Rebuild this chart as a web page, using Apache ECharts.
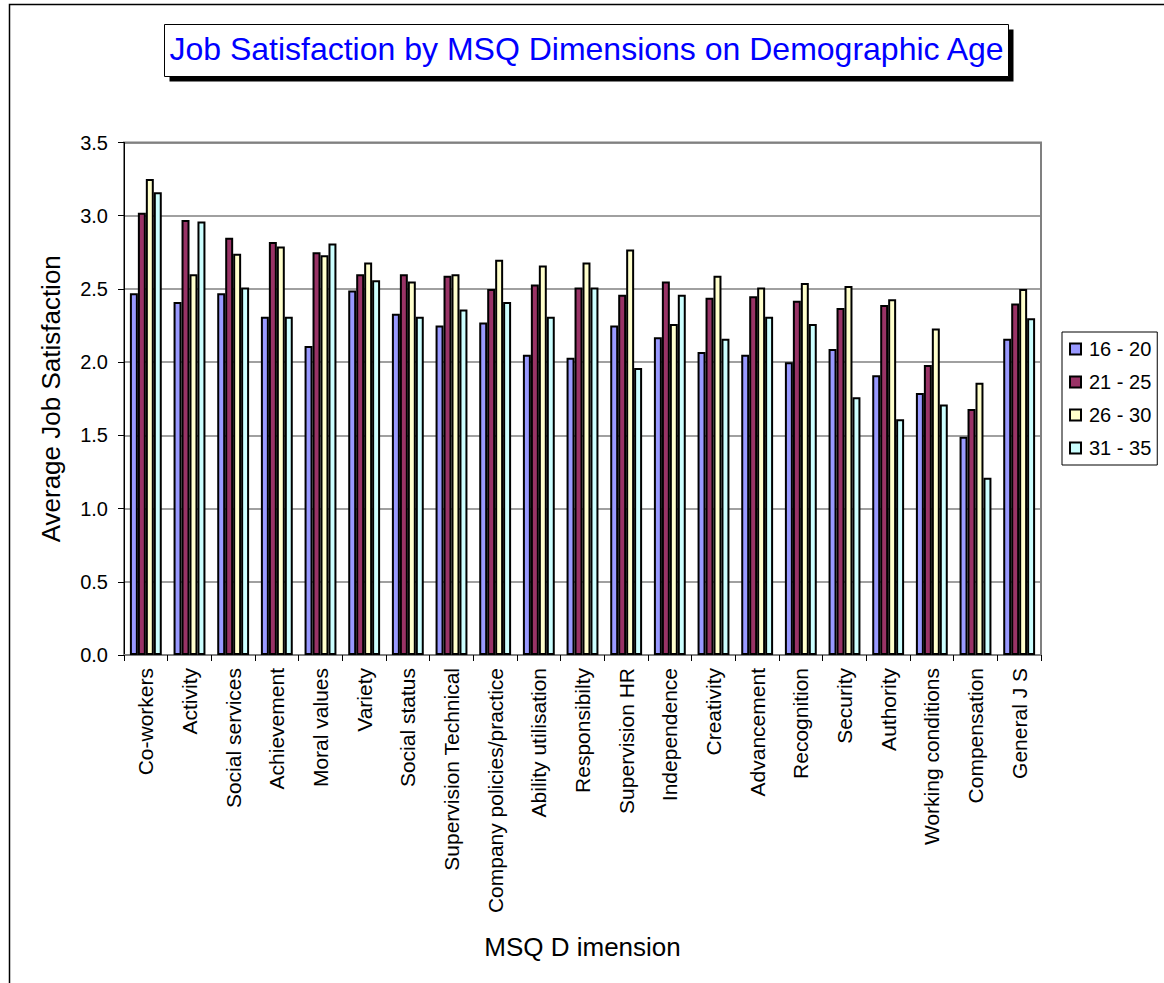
<!DOCTYPE html>
<html>
<head>
<meta charset="utf-8">
<script src="https://cdn.jsdelivr.net/npm/echarts@6/dist/echarts.min.js"></script>
<style>
html,body{margin:0;padding:0;background:#fff;}
#chart{width:1164px;height:983px;}
</style>
</head>
<body>
<div id="chart"></div>
<script>
var categories = ['Co-workers','Activity','Social services','Achievement','Moral values','Variety','Social status','Supervision Technical','Company policies/practice','Ability utilisation','Responsibilty','Supervision HR','Independence','Creativity','Advancement','Recognition','Security','Authority','Working conditions','Compensation','General J S'];
var seriesNames = ['16 - 20','21 - 25','26 - 30','31 - 35'];
var age16_20 = [2.47, 2.41, 2.47, 2.31, 2.11, 2.49, 2.33, 2.25, 2.27, 2.05, 2.03, 2.25, 2.17, 2.07, 2.05, 2.00, 2.09, 1.91, 1.79, 1.49, 2.16];
var age21_25 = [3.02, 2.97, 2.85, 2.82, 2.75, 2.60, 2.60, 2.59, 2.50, 2.53, 2.51, 2.46, 2.55, 2.44, 2.45, 2.42, 2.37, 2.39, 1.98, 1.68, 2.40];
var age26_30 = [3.25, 2.60, 2.74, 2.79, 2.73, 2.68, 2.55, 2.60, 2.70, 2.66, 2.68, 2.77, 2.26, 2.59, 2.51, 2.54, 2.52, 2.43, 2.23, 1.86, 2.50];
var age31_35 = [3.16, 2.96, 2.51, 2.31, 2.81, 2.56, 2.31, 2.36, 2.41, 2.31, 2.51, 1.96, 2.46, 2.16, 2.31, 2.26, 1.76, 1.61, 1.71, 1.21, 2.30];
var colors = ['#9999FF','#993366','#FFFFCC','#CCFFFF'];

var FONT = "'Liberation Sans', Arial, sans-serif";
var allData = [age16_20, age21_25, age26_30, age31_35];

var chart = echarts.init(document.getElementById('chart'), null, {renderer: 'svg'});
var series = allData.map(function (d, i) {
  return {
    name: seriesNames[i],
    type: 'bar',
    data: d,
    barGap: '0%',
    barCategoryGap: '27%',
    itemStyle: {color: colors[i], borderColor: '#000', borderWidth: 2},
    emphasis: {disabled: true}
  };
});

chart.setOption({
  backgroundColor: '#fff',
  animation: false,
  textStyle: {fontFamily: FONT},
  graphic: [
    {type: 'rect', shape: {x: 9.5, y: 4.5, width: 1400, height: 1200}, style: {fill: 'none', stroke: '#000', lineWidth: 1.5}, z: -10, silent: true},
    {type: 'rect', shape: {x: 169.5, y: 29.5, width: 844, height: 52}, style: {fill: '#000'}, z: -5, silent: true},
    {type: 'rect', shape: {x: 164.5, y: 24.5, width: 844, height: 52}, style: {fill: '#fff', stroke: '#000', lineWidth: 1}, z: -4, silent: true}
  ],
  title: {
    text: 'Job Satisfaction by MSQ Dimensions on Demographic Age',
    left: 586.5,
    textAlign: 'center',
    top: 33,
    padding: 0,
    textStyle: {color: '#0000FF', fontSize: 32, fontWeight: 'normal', fontFamily: FONT}
  },
  legend: {
    orient: 'vertical',
    left: 1062,
    top: 332,
    padding: [7, 6, 7, 7],
    borderColor: '#000',
    borderWidth: 1,
    itemWidth: 11,
    itemHeight: 11,
    itemGap: 13,
    icon: 'rect',
    itemStyle: {borderColor: '#000', borderWidth: 2},
    textStyle: {fontSize: 20, color: '#000', fontFamily: FONT, padding: [0, 0, 0, 3]},
    data: seriesNames
  },
  grid: {
    left: 124, right: 123, top: 142.5, bottom: 328,
    show: true, borderColor: '#808080', borderWidth: 2, backgroundColor: '#fff',
    containLabel: false
  },
  xAxis: {
    type: 'category',
    data: categories,
    name: 'MSQ D imension',
    nameLocation: 'middle',
    nameGap: 279,
    nameTextStyle: {fontSize: 26, color: '#000', fontFamily: FONT},
    axisLine: {lineStyle: {color: '#808080', width: 2}},
    axisTick: {show: true, length: 6, lineStyle: {color: '#000', width: 1}},
    axisLabel: {rotate: 90, fontSize: 21, color: '#000', margin: 13, interval: 0, fontFamily: FONT},
    splitLine: {show: false}
  },
  yAxis: {
    type: 'value',
    min: 0, max: 3.5, interval: 0.5,
    name: 'Average Job Satisfaction',
    nameLocation: 'middle',
    nameGap: 60,
    nameTextStyle: {fontSize: 26, color: '#000', fontFamily: FONT},
    axisLine: {show: true, lineStyle: {color: '#000', width: 1}},
    axisTick: {show: true, length: 6, lineStyle: {color: '#000'}},
    axisLabel: {fontSize: 20, color: '#000', margin: 16, fontFamily: FONT, formatter: function (v) { return v.toFixed(1); }},
    splitLine: {show: true, lineStyle: {color: '#808080', width: 1.5}}
  },
  series: series
});
</script>
</body>
</html>
